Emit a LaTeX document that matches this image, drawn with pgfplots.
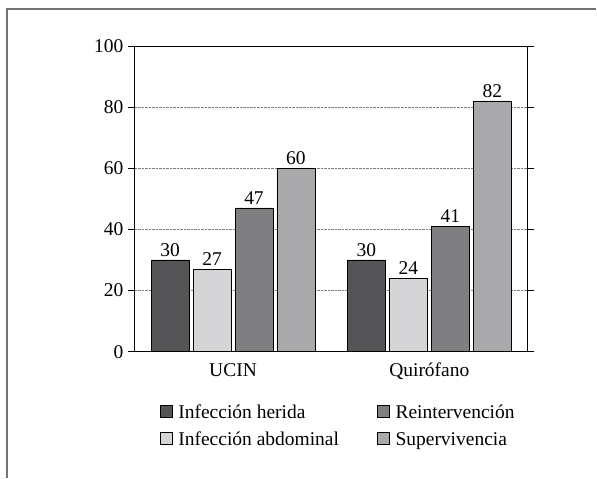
\documentclass[border=0pt]{standalone}
\usepackage{fontspec}
\setmainfont{Liberation Serif}
\usepackage{pgfplots}
\pgfplotsset{compat=1.18}
\definecolor{cA}{HTML}{555557}
\definecolor{cB}{HTML}{D5D5D7}
\definecolor{cC}{HTML}{7F7F82}
\definecolor{cD}{HTML}{A9A9AB}
\begin{document}
\begin{tikzpicture}
\path (0pt,0pt) rectangle (597pt,478pt);
\draw[color=gray!90!black, line width=1.2pt] (7pt,0pt) -- (7pt,469pt) -- (597pt,469pt);
\begin{axis}[
  at={(135pt,126pt)}, anchor=south west,
  scale only axis, width=393pt, height=306pt,
  ybar=4pt, bar width=38pt,
  xmin=-0.5, xmax=1.5, ymin=0, ymax=100,
  xtick={0,1}, xticklabels={UCIN,Quirófano},
  minor xtick={-0.5,0.5,1.5},
  ytick={0,20,40,60,80,100},
  tick align=outside, major tick length=7pt, minor tick length=7pt,
  xtick style={draw=none},
  minor tick style={black, line width=0.8pt},
  ytick style={black, line width=0.8pt},
  axis line style={black, line width=0.8pt},
  ymajorgrids, grid style={densely dotted, gray, line width=0.8pt},
  /pgf/number format/assume math mode=true,
  tick label style={font=\fontsize{19.5}{22}\selectfont},
  yticklabel style={xshift=-1pt},
  xticklabel style={yshift=-1pt},
  nodes near coords,
  nodes near coords style={font=\fontsize{19.5}{22}\selectfont, black, yshift=0pt},
  every axis plot/.append style={draw=black, line width=0.6pt},
  legend style={draw=none, at={(0.5,-0.16)}, anchor=north, xshift=7pt,
    font=\fontsize{19.5}{22}\selectfont, column sep=4pt,
    /tikz/every even column/.append style={column sep=36pt},
    row sep=8pt},
  legend columns=2, transpose legend,
  legend cell align=left,
  legend image code/.code={\draw[#1, draw=black, line width=0.6pt] (0pt,-5pt) rectangle (12pt,7pt);},
]
\addplot[fill=cA] coordinates {(0,30) (1,30)};
\addplot[fill=cB] coordinates {(0,27) (1,24)};
\addplot[fill=cC] coordinates {(0,47) (1,41)};
\addplot[fill=cD] coordinates {(0,60) (1,82)};
\legend{Infección herida, Infección abdominal, Reintervención, Supervivencia}
\end{axis}
\end{tikzpicture}
\end{document}
